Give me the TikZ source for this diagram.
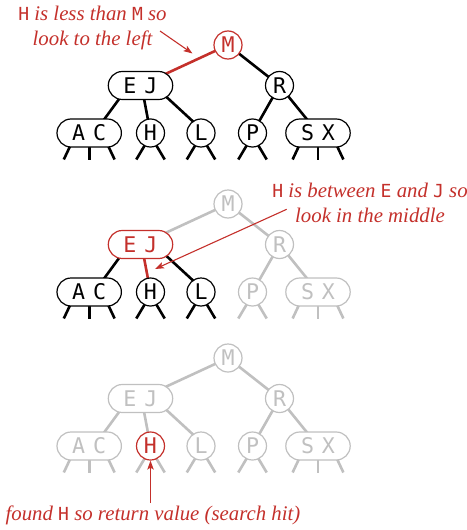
\documentclass[tikz,border=0pt]{standalone}
\usepackage{fontspec}
\newfontfamily\codefont{DejaVu Sans Mono}
\newfontfamily\labfont{Liberation Serif}
\usetikzlibrary{shapes.misc,calc,arrows.meta}
\definecolor{hired}{RGB}{196,48,43}
\definecolor{lite}{RGB}{192,192,192}
\pgfdeclarelayer{bg}
\pgfsetlayers{bg,main}
\newcommand\cd[1]{{\upshape\codefont\fontsize{9pt}{10pt}\selectfont #1}}
\newcommand\bstree[1]{%
  \node[circ,nM]  (M#1)  at (228,45)   {M};
  \node[pill,nEJ] (EJ#1) at (140.5,85.5) {E\hspace{4pt}J};
  \node[circ,nR]  (R#1)  at (279.5,85.5) {R};
  \node[pill,nAC] (AC#1) at (89.2,133) {A\hspace{4pt}C};
  \node[circ,nH]  (H#1)  at (150.5,133) {H};
  \node[circ,nL]  (L#1)  at (201,133)  {L};
  \node[circ,nP]  (P#1)  at (252.5,133) {P};
  \node[pill,nSX] (SX#1) at (318,133)  {S\hspace{4pt}X};
  \begin{pgfonlayer}{bg}
    \draw[eMEJ] (M#1.center) -- (EJ#1.center);
    \draw[eMR]  (M#1.center) -- (R#1.center);
    \draw[eEJAC] ($(EJ#1.center)+(-11.5,0)$) -- ($(AC#1.center)+(5,0)$);
    \draw[eEJH]  ($(EJ#1.center)+(1,0)$) -- (H#1.center);
    \draw[eEJL]  ($(EJ#1.center)+(13.5,0)$) -- ($(L#1.center)+(4.5,0)$);
    \draw[eRP]  (R#1.center) -- (P#1.center);
    \draw[eRSX] (R#1.center) -- (SX#1.center);
    \draw[tAC] ($(AC#1.center)+(-17.6,10)$) -- ++(-7.8,16.5);
    \draw[tAC] ($(AC#1.center)+(0,10)$) -- ++(0,16.5);
    \draw[tAC] ($(AC#1.center)+(17.6,10)$) -- ++(7.8,16.5);
    \draw[tSX] ($(SX#1.center)+(-17.6,10)$) -- ++(-7.8,16.5);
    \draw[tSX] ($(SX#1.center)+(0,10)$) -- ++(0,16.5);
    \draw[tSX] ($(SX#1.center)+(17.6,10)$) -- ++(7.8,16.5);
    \draw[tH] ($(H#1.center)+(-4.2,9.7)$) -- ++(-10,16.8);
    \draw[tH] ($(H#1.center)+(4.2,9.7)$) -- ++(10,16.8);
    \draw[tL] ($(L#1.center)+(-4.2,9.7)$) -- ++(-10,16.8);
    \draw[tL] ($(L#1.center)+(4.2,9.7)$) -- ++(10,16.8);
    \draw[tP] ($(P#1.center)+(-4.2,9.7)$) -- ++(-10,16.8);
    \draw[tP] ($(P#1.center)+(4.2,9.7)$) -- ++(10,16.8);
  \end{pgfonlayer}}
\begin{document}
\begin{tikzpicture}[x=0.5pt,y=-0.5pt,
  base/.style={fill=white,line width=0.6pt,inner sep=0pt,
    font=\codefont\fontsize{10.8pt}{12pt}\selectfont},
  circ/.style={base,circle,minimum size=14pt},
  pill/.style={base,rounded rectangle,minimum width=32.2pt,minimum height=14pt},
  nb/.style={draw=black,text=black},
  nr/.style={draw=hired,text=hired},
  ng/.style={draw=lite,text=lite},
  eb/.style={draw=black,line width=1.3pt},
  er/.style={draw=hired,line width=1.3pt},
  eg/.style={draw=lite,line width=1.3pt},
  nM/.style=nb, nEJ/.style=nb, nR/.style=nb, nAC/.style=nb, nH/.style=nb,
  nL/.style=nb, nP/.style=nb, nSX/.style=nb,
  eMEJ/.style=eb, eMR/.style=eb, eEJAC/.style=eb, eEJH/.style=eb, eEJL/.style=eb,
  eRP/.style=eb, eRSX/.style=eb,
  tAC/.style=eb, tH/.style=eb, tL/.style=eb, tP/.style=eb, tSX/.style=eb,
  lab/.style={text=hired,inner sep=0pt,anchor=base,
    font=\labfont\itshape\fontsize{10.4pt}{12pt}\selectfont},
  arr/.style={draw=hired,line width=0.55pt,
    -{Stealth[length=4.5pt,width=3.2pt,inset=1pt]}}]
\useasboundingbox (0,0) rectangle (466,530);
% tree 1
\begin{scope}
  \tikzset{nM/.style=nr, eMEJ/.style=er}
  \bstree{a}
\end{scope}
% tree 2
\begin{scope}[shift={(0,159)}]
  \tikzset{nM/.style=ng, nR/.style=ng, nP/.style=ng, nSX/.style=ng, nEJ/.style=nr,
    eMEJ/.style=eg, eMR/.style=eg, eRP/.style=eg, eRSX/.style=eg, eEJH/.style=er,
    tP/.style=eg, tSX/.style=eg}
  \bstree{b}
\end{scope}
% tree 3
\begin{scope}[shift={(0,313)}]
  \tikzset{nM/.style=ng, nR/.style=ng, nP/.style=ng, nSX/.style=ng, nEJ/.style=ng,
    nAC/.style=ng, nL/.style=ng, nH/.style=nr,
    eMEJ/.style=eg, eMR/.style=eg, eRP/.style=eg, eRSX/.style=eg, eEJH/.style=eg,
    eEJAC/.style=eg, eEJL/.style=eg,
    tAC/.style=eg, tH/.style=eg, tL/.style=eg, tP/.style=eg, tSX/.style=eg}
  \bstree{c}
\end{scope}
% labels
\node[lab] (l1a) at (92.5,20.7) {\cd{H} is less than \cd{M} so};
\node[lab] (l1b) at (92.5,45) {look to the left};
\node[lab] (l2a) at (370,197.3) {\cd{H} is between \cd{E} and \cd{J} so};
\node[lab] (l2b) at (370,222.7) {look in the middle};
\node[lab] (l3) at (153,520) {found \cd{H} so return value (search hit)};
% arrows
\coordinate (a1s) at (160,31);
\coordinate (a1e) at (192.5,53.5);
\coordinate (a2s) at (286.7,209.3);
\coordinate (a2e) at (155,269);
\coordinate (a3s) at (150.5,503);
\draw[arr] (a1s) -- (a1e);
\draw[arr] (a2s) -- (a2e);
\draw[arr] (a3s) -- (Hc.south);
\end{tikzpicture}
\end{document}
